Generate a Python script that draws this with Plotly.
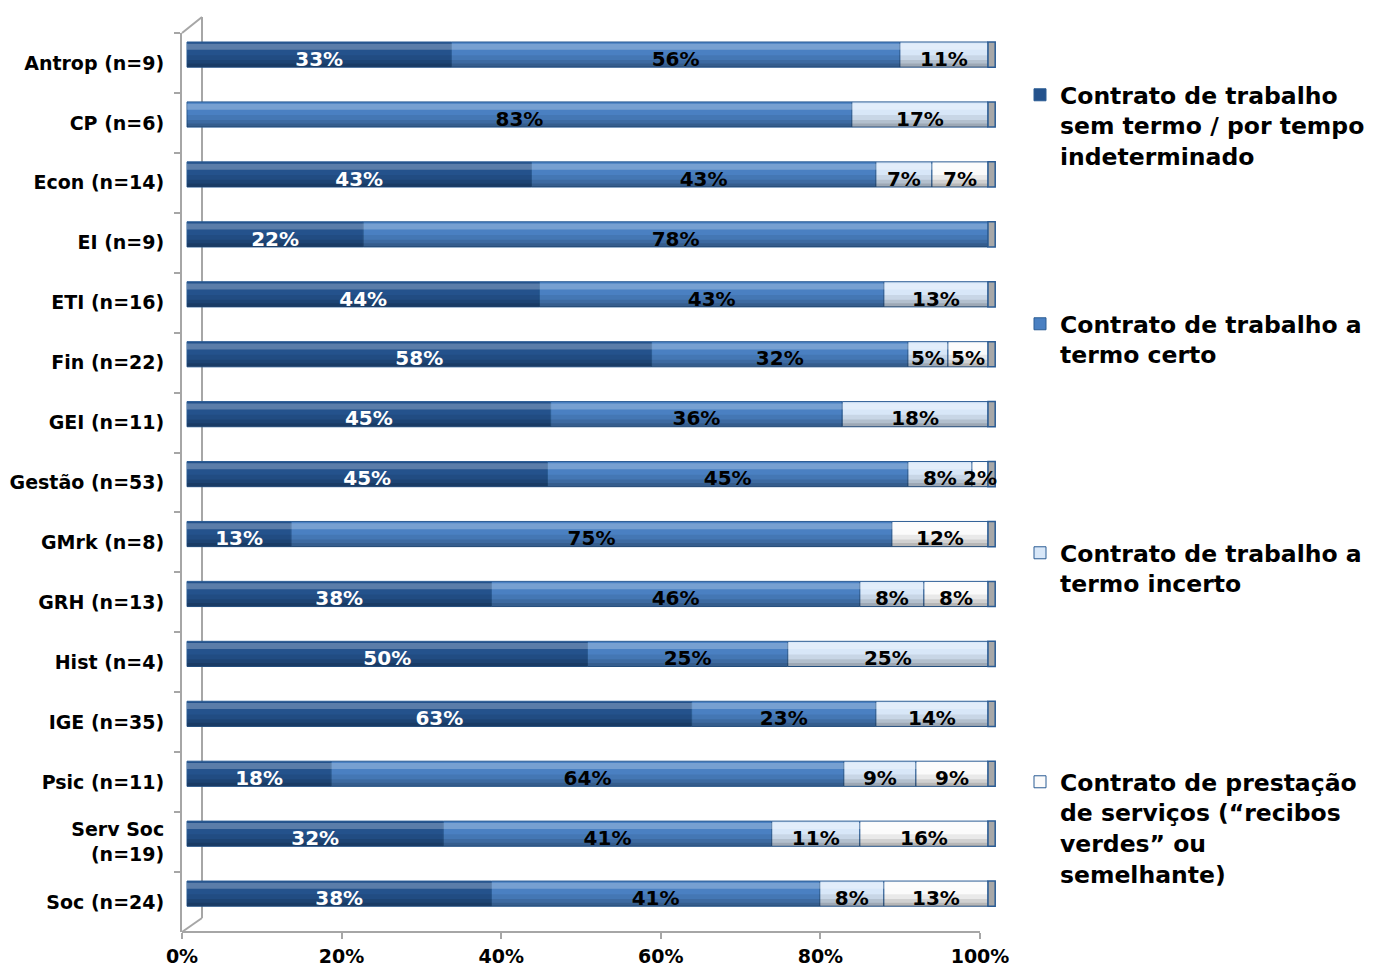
import plotly.graph_objects as go
import numpy as np

categories = ["Antrop (n=9)", "CP (n=6)", "Econ (n=14)", "EI (n=9)", "ETI (n=16)",
              "Fin (n=22)", "GEI (n=11)", "Gestão (n=53)", "GMrk (n=8)", "GRH (n=13)",
              "Hist (n=4)", "IGE (n=35)", "Psic (n=11)", "Serv Soc<br>(n=19)", "Soc (n=24)"]

series_names = [
    "Contrato de trabalho<br>sem termo / por tempo<br>indeterminado",
    "Contrato de trabalho a<br>termo certo",
    "Contrato de trabalho a<br>termo incerto",
    "Contrato de prestação<br>de serviços (“recibos<br>verdes” ou<br>semelhante)",
]

sem_termo = [33, 0, 43, 22, 44, 58, 45.4, 45, 13, 38, 50, 63, 18, 32, 38]
termo_certo = [56, 83, 43, 78, 43, 32, 36.4, 45, 75, 46, 25, 23, 64, 41, 41]
termo_incerto = [11, 17, 7, 0, 13, 5, 18.2, 8, 0, 8, 25, 14, 9, 11, 8]
prestacao = [0, 0, 7, 0, 0, 5, 0, 2, 12, 8, 0, 0, 9, 16, 13]

x_ticks = [0, 20, 40, 60, 80, 100]
x_tick_labels = ["0%", "20%", "40%", "60%", "80%", "100%"]

series = [sem_termo, termo_certo, termo_incerto, prestacao]
colors = ["#24528c", "#4a80c2", "#d8e7f8", "#fbfbfb"]
text_colors = ["white", "black", "black", "black"]
edge = "#2b5c94"
gray = "#a6a6a6"
FONT = "DejaVu Sans"

# pixel geometry helpers (plot area 182..998 x 33..932)
L, R, T, B = 182, 998, 33, 932
W, H = 1378, 967
def px(p):
    return (p - L) / (R - L)
def py(p):
    return (B - p) / (B - T)

vals = np.array(series, dtype=float)
bases = np.vstack([np.zeros(vals.shape[1]), np.cumsum(vals, axis=0)[:-1]])
totals = vals.sum(axis=0)

OFF, WID = -0.35, 0.42

fig = go.Figure()
legends = ["legend", "legend2", "legend3", "legend4"]
for i in range(4):
    v = [x if x > 0 else None for x in vals[i]]
    fig.add_trace(go.Bar(
        y=categories, x=v, base=bases[i], orientation="h",
        name=series_names[i], legend=legends[i],
        marker=dict(color=colors[i], line=dict(color=edge, width=1)),
        offset=OFF, width=WID, hoverinfo="skip",
    ))

# cylinder shading: top highlight and bottom shadow
shade = [
    (0.03, 0.10, "rgba(255,255,255,0.25)"),
    (0.22, 0.20, "rgba(0,0,0,0.07)"),
    (0.30, 0.12, "rgba(0,0,0,0.10)"),
    (0.36, 0.06, "rgba(0,0,0,0.12)"),
]
for o, w, c in shade:
    fig.add_trace(go.Bar(y=categories, x=totals, base=0, orientation="h", showlegend=False,
                         marker=dict(color=c, line=dict(width=0)),
                         offset=OFF + o, width=w, hoverinfo="skip"))
# end cap
fig.add_trace(go.Bar(y=categories, x=[0.9] * len(categories), base=totals, orientation="h",
                     showlegend=False,
                     marker=dict(color="#a8a8a8", line=dict(color=edge, width=1.5)),
                     offset=OFF, width=WID, hoverinfo="skip"))

# labels (transparent carriers, slightly lower as in the original)
for i in range(4):
    v = [x if x > 0 else None for x in vals[i]]
    fig.add_trace(go.Bar(
        y=categories, x=v, base=bases[i], orientation="h", showlegend=False,
        marker=dict(color="rgba(0,0,0,0)", line=dict(width=0)),
        offset=OFF + 0.07, width=WID, hoverinfo="skip",
        texttemplate="%{x:.0f}%", textposition="inside", insidetextanchor="middle",
        textangle=0, textfont=dict(family=FONT, size=20, weight="bold", color=text_colors[i]),
    ))

# anchor trace for the tick axis
fig.add_trace(go.Scatter(x=[0], y=[categories[0]], xaxis="x2", mode="markers",
                         marker=dict(opacity=0), showlegend=False, hoverinfo="skip"))

line_style = dict(color=gray, width=2)
shapes = [
    dict(type="line", xref="paper", yref="paper", x0=px(202), x1=px(202), y0=py(918), y1=py(17),
         line=line_style, layer="below"),
    dict(type="line", xref="paper", yref="paper", x0=px(182), x1=px(202), y0=py(33), y1=py(17),
         line=line_style, layer="below"),
    dict(type="line", xref="paper", yref="paper", x0=px(182), x1=px(202), y0=py(932), y1=py(918),
         line=line_style, layer="below"),
    dict(type="line", xref="x2", yref="paper", x0=x_ticks[0], x1=x_ticks[-1], y0=0, y1=0,
         line=line_style, layer="below"),
]

s_bar = (988 - 187) / 100.0
s_tick = (980 - 182) / 100.0
legend_font = dict(family=FONT, size=23.5, weight="bold", color="black")
leg_tops = [73, 302, 531, 760]
leg_common = dict(x=px(1020), xanchor="left", yanchor="top", font=legend_font,
                  bgcolor="rgba(0,0,0,0)", itemwidth=30, valign="top")

layout_legends = {}
for k, name in enumerate(legends):
    layout_legends[name] = dict(y=py(leg_tops[k]), **leg_common)

n = len(categories)
fig.update_layout(
    width=W, height=H,
    margin=dict(l=L, r=W - R, t=T, b=H - B, autoexpand=False),
    paper_bgcolor="white", plot_bgcolor="rgba(0,0,0,0)",
    barmode="overlay",
    uniformtext=dict(mode="show", minsize=20),
    font=dict(family=FONT, color="black"),
    shapes=shapes,
    xaxis=dict(range=[-5 / s_bar, -5 / s_bar + (R - L) / s_bar], visible=False,
               automargin=False, fixedrange=True),
    xaxis2=dict(overlaying="x", anchor="y", side="bottom", automargin=False,
                range=[0, (R - L) / s_tick], tickmode="array",
                tickvals=x_ticks, ticktext=x_tick_labels,
                ticks="outside", ticklen=6, tickcolor=gray, tickwidth=1.5,
                showline=False, showgrid=False, zeroline=False, ticklabelstandoff=1,
                tickfont=dict(family=FONT, size=19, weight="bold", color="black")),
    yaxis=dict(categoryorder="array", categoryarray=categories,
               range=[n - 0.5, -0.5], automargin=False,
               showline=True, linecolor=gray, linewidth=2,
               ticks="outside", tickson="boundaries", ticklen=6, tickcolor=gray, tickwidth=1.5,
               showgrid=False, tickfont=dict(family=FONT, size=19, weight="bold", color="black"),
               ticklabelstandoff=12),
    **layout_legends,
)

fig.write_html("out.html", post_script="document.body.style.margin='0';",
               config={"displayModeBar": False})
